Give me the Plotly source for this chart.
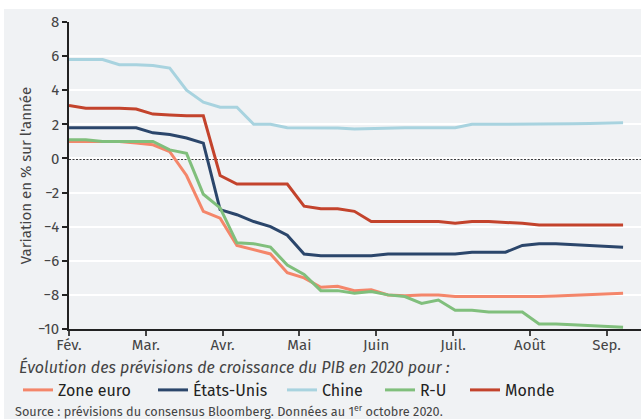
import plotly.graph_objects as go

# weekly observation index (Feb -> early Sep 2020)
week_idx = list(range(34))

month_labels = ["Fév.", "Mar.", "Avr.", "Mai", "Juin", "Juil.", "Août", "Sep."]
weeks_per_month = 4.574

zone_euro = [1.0, 1.0, 1.0, 1.0, 0.9, 0.8, 0.4, -1.0, -3.1, -3.5, -5.1, -5.35, -5.6, -6.7, -7.0,
             -7.55, -7.5, -7.75, -7.7, -8.0, -8.05, -8.0, -8.0, -8.1, -8.1, -8.12, -8.13, -8.13,
             -8.1, -8.07, -8.02, -7.97, -7.93, -7.9]
etats_unis = [1.8, 1.8, 1.8, 1.8, 1.8, 1.5, 1.4, 1.2, 0.9, -3.0, -3.3, -3.7, -4.0, -4.5, -5.6,
              -5.7, -5.7, -5.7, -5.7, -5.6, -5.6, -5.6, -5.6, -5.6, -5.5, -5.5, -5.5, -5.1,
              -5.0, -5.0, -5.05, -5.1, -5.15, -5.2]
chine = [5.8, 5.8, 5.8, 5.5, 5.5, 5.45, 5.3, 4.0, 3.3, 3.0, 3.0, 2.0, 2.0, 1.8, 1.8, 1.8, 1.78,
         1.72, 1.75, 1.8, 1.8, 1.8, 1.8, 1.8, 2.0, 2.0, 2.0, 2.0, 2.0, 2.0, 2.03, 2.05, 2.08, 2.1]
r_u = [1.1, 1.1, 1.0, 1.0, 1.0, 1.0, 0.5, 0.3, -2.1, -2.9, -4.95, -5.0, -5.2, -6.25, -6.8,
       -7.75, -7.75, -7.9, -7.8, -8.0, -8.1, -8.5, -8.3, -8.9, -8.9, -9.0, -9.0, -9.0,
       -9.7, -9.7, -9.75, -9.8, -9.85, -9.9]
monde = [3.1, 2.95, 2.95, 2.95, 2.9, 2.6, 2.55, 2.5, 2.5, -1.0, -1.5, -1.5, -1.5, -1.5, -2.8,
         -2.95, -2.95, -3.1, -3.7, -3.7, -3.7, -3.7, -3.7, -3.8, -3.7, -3.7, -3.75, -3.8,
         -3.9, -3.9, -3.9, -3.9, -3.9, -3.9]

series = [
    ("Zone euro", zone_euro, "#f4866a"),
    ("États-Unis", etats_unis, "#2b466b"),
    ("Chine", chine, "#a8d3df"),
    ("R-U", r_u, "#80bf7c"),
    ("Monde", monde, "#c3432c"),
]

FONT = "Fira Sans, Noto Sans, sans-serif"
BG = "#f0f2f4"

W, H = 641, 419
L, R, T, B = 69, 0, 22, 90
PW = W - L - R
PH = H - T - B

def px_x(p):
    return (p - L) / PW

def px_y(p):
    return (H - B - p) / PH

fig = go.Figure()

legend_px = [18, 153, 282, 380, 465]
legend_names = ["legend", "legend2", "legend3", "legend4", "legend5"]
for (name, vals, col), ln in zip(series, legend_names):
    fig.add_trace(go.Scatter(
        x=week_idx, y=vals, mode="lines", name=name,
        line=dict(color=col, width=3), legend=ln,
    ))

legend_common = dict(orientation="h", xanchor="left", yanchor="middle",
                     bgcolor="rgba(0,0,0,0)", font=dict(family=FONT, size=16, color="#222"),
                     itemwidth=30)
layout_legends = {}
for lp, ln in zip(legend_px, legend_names):
    layout_legends[ln] = dict(x=px_x(lp), y=px_y(390), **legend_common)

fig.update_layout(
    width=W, height=H,
    margin=dict(l=L, r=R, t=T, b=B, autoexpand=False),
    paper_bgcolor=BG, plot_bgcolor=BG,
    showlegend=True,
    font=dict(family=FONT, color="#444"),
    xaxis=dict(
        range=[0, PW / 16.79], tickmode="array",
        tickvals=[i * weeks_per_month for i in range(len(month_labels))],
        ticktext=month_labels, showgrid=False, zeroline=False,
        showline=True, linecolor="#222", linewidth=1.5,
        ticks="outside", ticklen=5, tickcolor="#444", tickwidth=1.5,
        tickfont=dict(family=FONT, size=15, color="#444"), automargin=False,
        ticklabelstandoff=-4,
    ),
    yaxis=dict(
        range=[-10, 8], tickvals=list(range(-10, 9, 2)),
        showgrid=True, gridcolor="#ffffff", gridwidth=1.5, zeroline=False,
        showline=True, linecolor="#222", linewidth=1.5,
        ticks="outside", ticklen=5, tickcolor="#222", tickwidth=1.5,
        tickfont=dict(family=FONT, size=15, color="#444"), automargin=False,
        title=dict(text="Variation en % sur l'année", standoff=3,
                   font=dict(family=FONT, size=15, color="#444")),
    ),
    **layout_legends,
)

# white frame strips (top and left) outside the grey card
fig.add_shape(type="rect", xref="paper", yref="paper", x0=px_x(0), x1=px_x(W),
              y0=px_y(9), y1=px_y(-5), fillcolor="#ffffff", line_width=0, layer="above")
fig.add_shape(type="rect", xref="paper", yref="paper", x0=px_x(-5), x1=px_x(4),
              y0=px_y(H + 5), y1=px_y(-5), fillcolor="#ffffff", line_width=0, layer="above")

# dotted zero line
fig.add_shape(type="line", xref="paper", yref="y", x0=0, x1=1, y0=0, y1=0,
              line=dict(color="#000", width=2.5, dash="2px,1.5px"), layer="below")

fig.add_annotation(
    text="<i>Évolution des prévisions de croissance du PIB en 2020 pour :</i>",
    xref="paper", yref="paper", x=px_x(17), y=px_y(367), xanchor="left", yanchor="middle",
    showarrow=False, font=dict(family=FONT, size=16, color="#444"),
)
fig.add_annotation(
    text="Source : prévisions du consensus Bloomberg. Données au 1<sup>er</sup> octobre 2020.",
    xref="paper", yref="paper", x=px_x(13), y=px_y(411), xanchor="left", yanchor="middle",
    showarrow=False, font=dict(family=FONT, size=12.7, color="#444"),
)

fig.write_html("out.html", config={"displayModeBar": False},
               post_script="document.body.style.margin='0';")
